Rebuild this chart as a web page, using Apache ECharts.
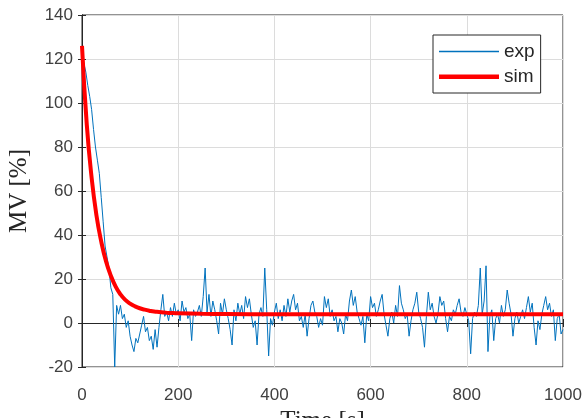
<!DOCTYPE html>
<html>
<head>
<meta charset="utf-8">
<script src="https://cdn.jsdelivr.net/npm/echarts@6/dist/echarts.min.js"></script>
<style>
  html, body { margin: 0; padding: 0; background: #fff; }
  #chart { width: 584px; height: 418px; }
</style>
</head>
<body>
<div id="chart"></div>
<script>
// 数据：实验值每4秒一个点，仿真值按读图的时间点
var expStep = 4;
var expValues = [
  121, 118, 114, 108, 103, 97, 88, 80, 74, 68,
  57, 46, 35, 30, 25, 16, 13, -20, 8, 4,
  8, 2, 4, -2, 1, -6, -10, -13, -7, -9,
  -5, -1, 3, -4, -2, -8, -6, -12, -3, -11,
  -2, 6, 13, 3, 5, 1, 7, 3, 9, 4,
  6, 1, 10, 5, 7, 2, 4, -8, 6, 3,
  5, 8, 3, 12, 25, 5, 13, 3, 10, 6,
  1, -5, 9, 4, 11, 6, 2, -3, -10, 6,
  1, 9, 4, 8, 2, 12, 7, 11, 4, -2,
  1, -10, 4, 7, 3, 25, 6, -15, 2, -1,
  5, 9, 2, 6, 1, 8, 3, 11, 5, 10,
  13, 6, 9, 1, 3, -2, 4, -6, 2, 8,
  10, 5, 3, -2, 2, -1, 12, 7, 11, 3,
  6, 1, 3, -4, 2, 0, -5, 4, 1, 10,
  15, 8, 12, 5, 2, -1, 3, -9, 4, 1,
  12, 7, 9, 3, 6, 10, 13, 4, -1, -6,
  2, 5, 0, 8, 3, 17, 9, 6, 2, 4,
  -6, 1, 6, 9, 14, 5, 2, -2, -11, 3,
  14, 6, 9, 3, 0, 4, 12, 8, 10, 2,
  -4, 3, 1, 6, 4, 8, 11, 5, 3, 7,
  4, 1, -14, 2, 5, 3, 8, 25, 4, 10,
  26, -13, 3, 6, -8, 2, 4, 0, 8, 3,
  6, 15, 9, 4, -6, 2, 5, 0, 3, 6,
  2, 7, 12, 5, 9, -2, -10, 1, -3, 4,
  8, 12, 6, 9, 3, 6, -8, 2, 4, -5,
  -3
];
var simTimes = [0, 10, 20, 30, 40, 50, 60, 70, 80, 90, 100, 110, 120, 130, 140, 150, 160, 170, 180, 190, 200, 250, 300, 400, 500, 600, 700, 800, 900, 1000];
var simValues = [126, 90, 66, 49, 37, 28, 21.5, 16.5, 13, 10.5, 8.8, 7.6, 6.7, 6.1, 5.6, 5.2, 5, 4.8, 4.6, 4.5, 4.4, 4.2, 4.1, 4, 4, 4, 4, 4, 4, 4];
var xTicks = { min: 0, max: 1000, interval: 200 };
var yTicks = { min: -20, max: 140, interval: 20 };

var expData = expValues.map(function (v, i) { return [i * expStep, v]; });
var simData = simValues.map(function (v, i) { return [simTimes[i], v]; });

var labelStyle = { color: '#404040', fontSize: 17, fontFamily: 'Liberation Sans, Arial, sans-serif' };
var nameStyle = { color: '#262626', fontSize: 25, fontFamily: 'Liberation Serif, Times New Roman, serif' };
var plain = function (v) { return String(v); };
// 图例线条：细线/粗线，左侧加一条极窄的竖条撑开高度
var thinIcon = 'path://M0,0h0.01v15h-0.01z M0,6.8h60v1.4h-60z';
var thickIcon = 'path://M0,0h0.01v15h-0.01z M0,5.5h60v4.5h-60z';

var option = {
  animation: false,
  grid: { left: 82, right: 21, top: 15, bottom: 51, show: true, borderColor: '#262626', borderWidth: 1, outerBoundsMode: 'none' },
  legend: {
    orient: 'vertical',
    left: 433, top: 35,
    padding: [7, 6, 7, 6],
    itemGap: 6,
    itemWidth: 60, itemHeight: 15,
    borderColor: '#262626', borderWidth: 1, borderRadius: 0,
    backgroundColor: '#fff',
    textStyle: { color: '#262626', fontSize: 19, fontFamily: 'Liberation Sans, Arial, sans-serif', padding: [0, 0, 0, 0] },
    data: [{ name: 'exp', icon: thinIcon }, { name: 'sim', icon: thickIcon }]
  },
  xAxis: [{
    type: 'value', min: xTicks.min, max: xTicks.max, interval: xTicks.interval,
    name: 'Time [s]', nameLocation: 'middle', nameGap: 40, nameTextStyle: nameStyle,
    axisLine: { show: true, lineStyle: { color: '#262626' } },
    axisTick: { show: true, inside: true, length: 4, lineStyle: { color: '#262626' } },
    axisLabel: Object.assign({ margin: 20, formatter: plain }, labelStyle),
    splitLine: { show: true, lineStyle: { color: '#dcdcdc' } }
  }, {
    type: 'value', position: 'top', min: xTicks.min, max: xTicks.max, interval: xTicks.interval,
    axisLine: { show: true, lineStyle: { color: '#262626' } },
    axisTick: { show: true, inside: true, length: 4, lineStyle: { color: '#262626' } },
    axisLabel: { show: false }, splitLine: { show: false }
  }],
  yAxis: [{
    type: 'value', min: yTicks.min, max: yTicks.max, interval: yTicks.interval,
    name: 'MV [%]', nameLocation: 'middle', nameGap: 50, nameTextStyle: nameStyle,
    axisLine: { show: true, lineStyle: { color: '#262626' } },
    axisTick: { show: true, inside: true, length: 4, lineStyle: { color: '#262626' } },
    axisLabel: Object.assign({ margin: 9, formatter: plain }, labelStyle),
    splitLine: { show: true, lineStyle: { color: '#dcdcdc' } }
  }, {
    type: 'value', position: 'right', min: yTicks.min, max: yTicks.max, interval: yTicks.interval,
    axisLine: { show: true, lineStyle: { color: '#262626' } },
    axisTick: { show: true, inside: true, length: 4, lineStyle: { color: '#262626' } },
    axisLabel: { show: false }, splitLine: { show: false }
  }],
  series: [{
    name: 'exp', type: 'line', data: expData,
    symbol: 'none', showSymbol: false,
    lineStyle: { color: '#0072BD', width: 1 },
    itemStyle: { color: '#0072BD' }
  }, {
    name: 'sim', type: 'line', data: simData, smooth: true,
    symbol: 'none', showSymbol: false,
    lineStyle: { color: '#ff0000', width: 4 },
    itemStyle: { color: '#ff0000' }
  }]
};

var myChart = echarts.init(document.getElementById('chart'));
myChart.setOption(option);
</script>
</body>
</html>
